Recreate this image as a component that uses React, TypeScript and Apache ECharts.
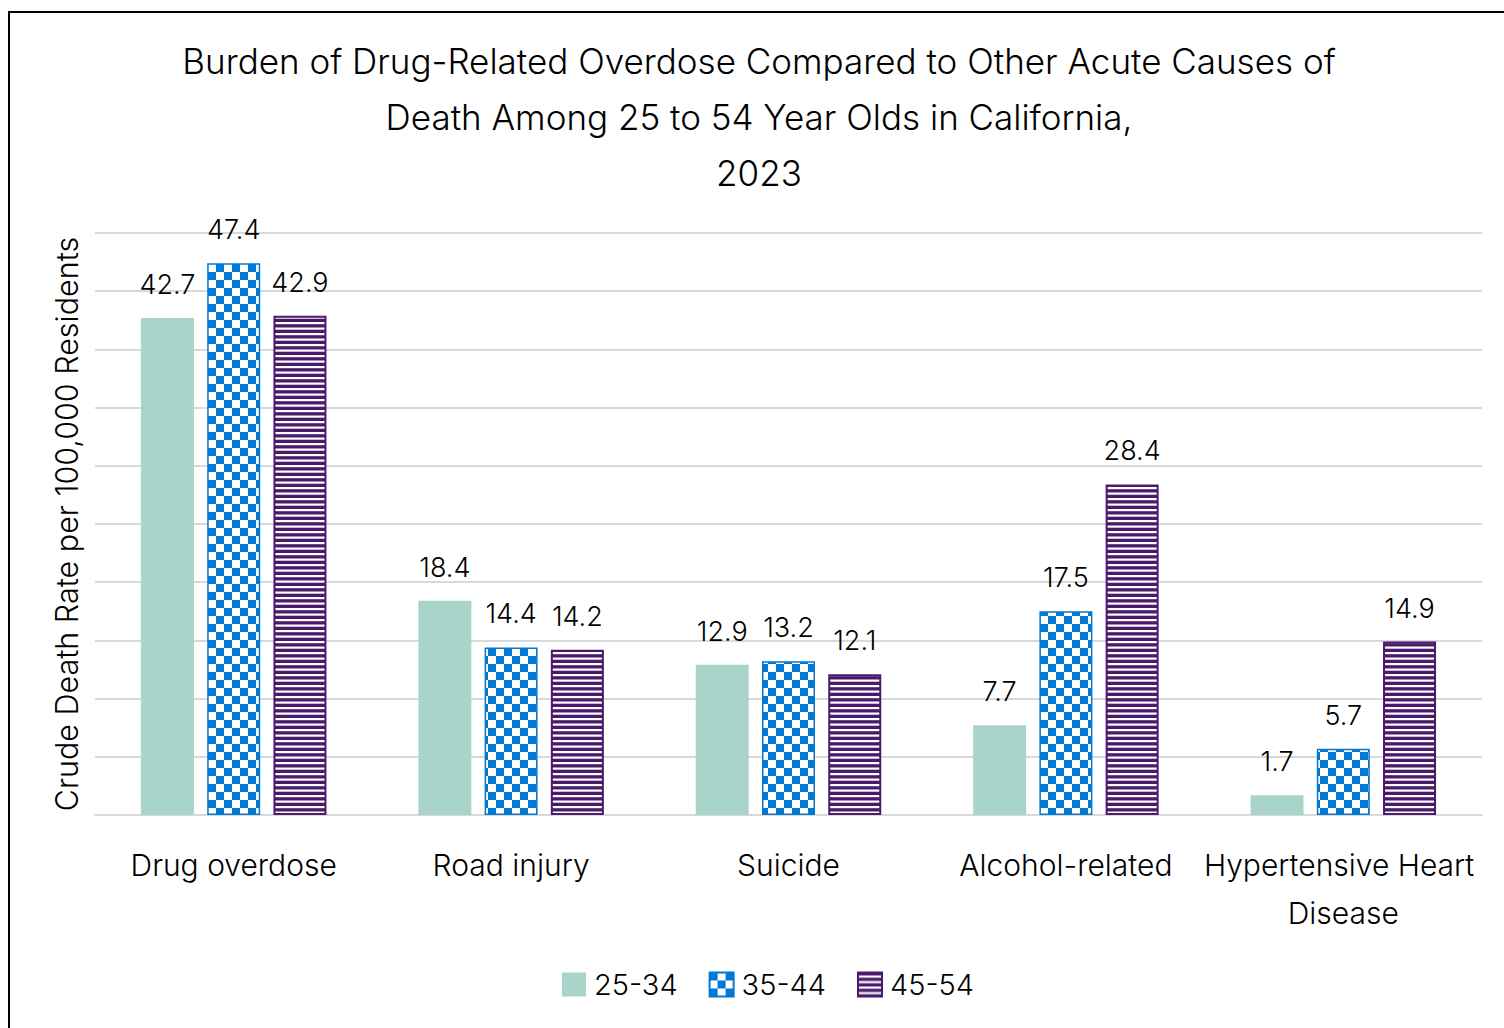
import React, { useEffect, useRef } from "react";
import * as echarts from "echarts";

const categories = [
  "Drug overdose",
  "Road injury",
  "Suicide",
  "Alcohol-related",
  "Hypertensive Heart Disease",
];
const age25to34 = [42.7, 18.4, 12.9, 7.7, 1.7];
const age35to44 = [47.4, 14.4, 13.2, 17.5, 5.7];
const age45to54 = [42.9, 14.2, 12.1, 28.4, 14.9];
const seriesNames = ["25-34", "35-44", "45-54"];

const TEAL = "#A9D4CA";
const BLUE = "#0078D4";
const PURPLE = "#4A1A6C";
const FONT = "Inter, 'Liberation Sans', Arial, sans-serif";
const WEIGHT = 300;

function checkerPattern(): HTMLCanvasElement {
  const c = document.createElement("canvas");
  c.width = 16;
  c.height = 16;
  const ctx = c.getContext("2d")!;
  ctx.fillStyle = "#ffffff";
  ctx.fillRect(0, 0, 16, 16);
  ctx.fillStyle = BLUE;
  ctx.fillRect(0, 0, 8, 8);
  ctx.fillRect(8, 8, 8, 8);
  return c;
}

function stripePattern(): HTMLCanvasElement {
  const c = document.createElement("canvas");
  c.width = 8;
  c.height = 11;
  const ctx = c.getContext("2d")!;
  ctx.fillStyle = PURPLE;
  ctx.fillRect(0, 0, 8, 11);
  ctx.fillStyle = "#ffffff";
  ctx.fillRect(0, 3, 8, 2.2);
  ctx.fillRect(0, 8.5, 8, 2.2);
  return c;
}

export default function App() {
  const ref = useRef<HTMLDivElement>(null);

  useEffect(() => {
    if (!ref.current) return;
    const chart = echarts.init(ref.current, undefined, { renderer: "svg" });

    const label = {
      show: true,
      position: "top" as const,
      distance: 20,
      fontSize: 27,
      fontWeight: WEIGHT,
      fontFamily: FONT,
      color: "#000",
    };

    chart.setOption({
      animation: false,
      backgroundColor: "#ffffff",
      textStyle: { fontFamily: FONT, fontWeight: WEIGHT },
      graphic: [
        {
          type: "line",
          shape: { x1: 9, y1: 12, x2: 1504, y2: 12 },
          style: { stroke: "#000", lineWidth: 2 },
        },
        {
          type: "line",
          shape: { x1: 9, y1: 11, x2: 9, y2: 1028 },
          style: { stroke: "#000", lineWidth: 2 },
        },
        {
          type: "text",
          x: 759,
          y: 33,
          style: {
            text:
              "Burden of Drug-Related Overdose Compared to Other Acute Causes of\nDeath Among 25 to 54 Year Olds in California,\n2023",
            fontSize: 35,
            fontWeight: WEIGHT,
            lineHeight: 56,
            fontFamily: FONT,
            fill: "#000",
            textAlign: "center",
            textVerticalAlign: "top",
          },
        },
      ],
      legend: {
        data: seriesNames,
        left: 562,
        top: 970,
        padding: 0,
        itemWidth: 24,
        itemHeight: 24,
        itemGap: 31,
        icon: "rect",
        textStyle: {
          fontSize: 29,
          fontWeight: WEIGHT,
          fontFamily: FONT,
          color: "#000",
          padding: [0, 0, 0, 3],
        },
      },
      grid: { left: 95, right: 22, top: 233, bottom: 213, containLabel: false },
      xAxis: {
        type: "category",
        data: categories,
        axisLine: { show: true, lineStyle: { color: "#d9d9d9", width: 2 } },
        axisTick: { show: false },
        axisLabel: {
          fontSize: 30,
          fontWeight: WEIGHT,
          fontFamily: FONT,
          color: "#000",
          margin: 26,
          lineHeight: 48,
          width: 285,
          overflow: "break",
          interval: 0,
        },
      },
      yAxis: {
        type: "value",
        min: 0,
        max: 50,
        interval: 5,
        name: "Crude Death Rate per 100,000 Residents",
        nameLocation: "middle",
        nameGap: 13,
        nameTextStyle: { fontSize: 30.5, fontWeight: WEIGHT, fontFamily: FONT, color: "#000" },
        axisLabel: { show: false },
        axisLine: { show: false },
        axisTick: { show: false },
        splitLine: { lineStyle: { color: "#d9d9d9", width: 2 } },
      },
      series: [
        {
          name: seriesNames[0],
          type: "bar",
          data: age25to34,
          barWidth: 53,
          barGap: "25%",
          itemStyle: { color: TEAL },
          label,
        },
        {
          name: seriesNames[1],
          type: "bar",
          data: age35to44,
          barWidth: 53,
          barGap: "25%",
          itemStyle: {
            color: { image: checkerPattern(), repeat: "repeat" },
            borderColor: BLUE,
            borderWidth: 1.5,
          },
          label,
        },
        {
          name: seriesNames[2],
          type: "bar",
          data: age45to54,
          barWidth: 53,
          barGap: "25%",
          itemStyle: {
            color: { image: stripePattern(), repeat: "repeat" },
            borderColor: PURPLE,
            borderWidth: 2,
          },
          label,
        },
      ],
    });

    return () => chart.dispose();
  }, []);

  return (
    <div
      ref={ref}
      style={{ position: "fixed", left: 0, top: 0, width: 1504, height: 1028 }}
    />
  );
}
